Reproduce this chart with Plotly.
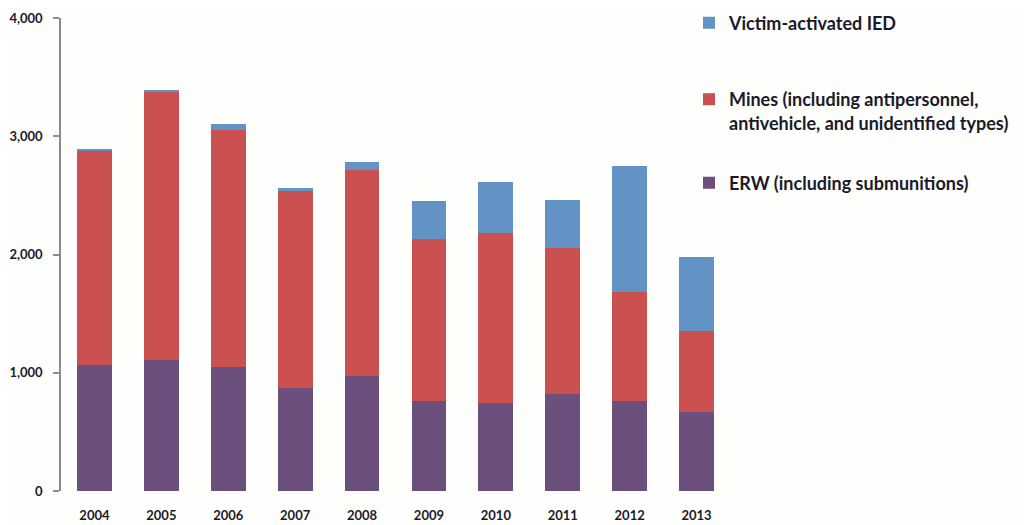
import plotly.graph_objects as go

years = ["2004", "2005", "2006", "2007", "2008", "2009", "2010", "2011", "2012", "2013"]
erw = [1069, 1112, 1047, 872, 976, 759, 746, 822, 762, 668]
mines = [1810, 2259, 2009, 1662, 1742, 1373, 1437, 1234, 924, 686]
ied = [10, 17, 48, 29, 65, 318, 431, 405, 1065, 622]
y_ticks = [0, 1000, 2000, 3000, 4000]
y_labels = ["0", "1,000", "2,000", "3,000", "4,000"]

names = {
    "ied": "<b>Victim-activated IED</b>",
    "mines": "<b>Mines (including antipersonnel,<br>antivehicle, and unidentified types)</b>",
    "erw": "<b>ERW (including submunitions)</b>",
}
colors = {"ied": "#6392c4", "mines": "#cb5151", "erw": "#6b4f7c"}

FONT = "Lato, 'Open Sans', sans-serif"
W, H = 1024, 517  # page has an 8px body margin

fig = go.Figure()
fig.add_trace(go.Bar(x=years, y=erw, name=names["erw"], marker=dict(color=colors["erw"], line=dict(width=0)), legend="legend3"))
fig.add_trace(go.Bar(x=years, y=mines, name=names["mines"], marker=dict(color=colors["mines"], line=dict(width=0)), legend="legend2"))
fig.add_trace(go.Bar(x=years, y=ied, name=names["ied"], marker=dict(color=colors["ied"], line=dict(width=0)), legend="legend"))

leg_common = dict(
    xref="container", yref="container", xanchor="left", yanchor="middle",
    bgcolor="rgba(0,0,0,0)", borderwidth=0,
    font=dict(family=FONT, size=18, color="#1a1a2a"),
    itemclick=False, itemdoubleclick=False, valign="top",
)
x_leg = 681 / W
fig.update_layout(
    width=W, height=H,
    barmode="stack", bargap=0.48,
    paper_bgcolor="#fefefc", plot_bgcolor="#fefefc",
    margin=dict(l=53, r=302, t=10, b=34, autoexpand=False),
    showlegend=True,
    legend=dict(**leg_common, x=x_leg, y=1 - 15 / H),
    legend2=dict(**leg_common, x=x_leg, y=1 - 103 / H),
    legend3=dict(**leg_common, x=x_leg, y=1 - 175 / H),
    xaxis=dict(
        showline=False, ticks="", showgrid=False,
        tickfont=dict(family=FONT, size=13, color="#1a1a2a", weight="bold"),
        ticklabelstandoff=15,
    ),
    yaxis=dict(
        range=[0, 4000], tickvals=y_ticks, ticktext=y_labels,
        showline=True, linecolor="#8c8c8c", linewidth=1.5,
        ticks="outside", ticklen=6, tickcolor="#8c8c8c", tickwidth=1.5,
        showgrid=False, zeroline=False,
        tickfont=dict(family=FONT, size=13, color="#1a1a2a", weight="bold"),
        ticklabelstandoff=8,
    ),
)

fig.write_html("out.html")
